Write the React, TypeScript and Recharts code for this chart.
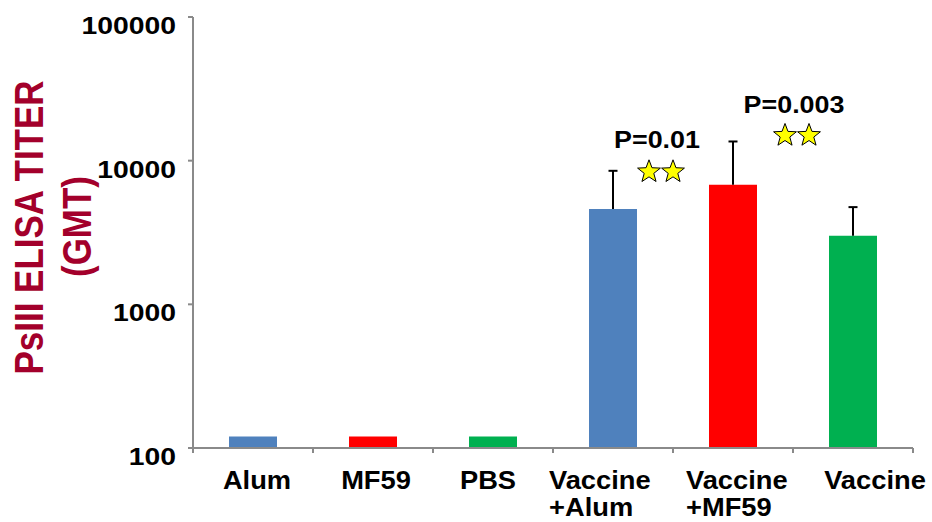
import React from "react";
import { BarChart, Bar, XAxis, YAxis, Cell, LabelList } from "recharts";

// Groups on the x axis ("\n" splits a label over two lines)
const groups = ["Alum", "MF59", "PBS", "Vaccine\n+Alum", "Vaccine\n+MF59", "Vaccine"];
// Geometric mean titers
const gmt = [120, 120, 120, 4600, 6800, 3000];
// Upper end of the error whisker (null = no whisker)
const upperLimit: (number | null)[] = [null, null, null, 8500, 13600, 4750];
// Significance annotations
const pLabels: (string | null)[] = [null, null, null, "P=0.01", "P=0.003", null];
// Y axis ticks
const yTicks = [100, 1000, 10000, 100000];

const data = groups.map((name, i) => ({
  name,
  gmt: gmt[i],
  upper: upperLimit[i],
  p: pLabels[i],
}));

const BAR_COLORS = ["#4F81BD", "#FF0000", "#00B050", "#4F81BD", "#FF0000", "#00B050"];
const AXIS_GRAY = "#8A8A8A";
const FONT = "'Liberation Sans', Arial, Helvetica, sans-serif";
const TITLE_RED = "#A3002B";

// Horizontal nudge of each category label block
const LABEL_NUDGE = [4, 3, -5, -9, 8, 22];
const LABEL_LINE_Y = [41, 68];

// Per-annotation layout (offset from the whisker top)
const ANNOT_LAYOUT: Record<string, { tx: number; ty: number; sx: number; sy: number }> = {
  "P=0.01": { tx: 44, ty: -23, sx: 36, sy: 1 },
  "P=0.003": { tx: 61, ty: -28, sx: 52, sy: -6 },
};

const starPath = (cx: number, cy: number, r: number) => {
  const inner = r * 0.42;
  const pts: string[] = [];
  for (let k = 0; k < 10; k++) {
    const rad = k % 2 === 0 ? r : inner;
    const a = -Math.PI / 2 + (k * Math.PI) / 5;
    pts.push(`${(cx + rad * Math.cos(a)).toFixed(2)},${(cy + rad * Math.sin(a)).toFixed(2)}`);
  }
  return `M${pts.join("L")}Z`;
};

const YTick = (props: any) => {
  const { x, y, payload } = props;
  return (
    <g transform={`translate(${x - 12},${y + 17}) scale(1.18,1)`}>
      <text textAnchor="end" fontFamily={FONT} fontWeight="bold" fontSize={24} fill="#000">
        {payload.value}
      </text>
    </g>
  );
};

const XTick = (props: any) => {
  const { x, y, payload, index, visibleTicksCount, width } = props;
  const band = width && visibleTicksCount ? width / visibleTicksCount : 120;
  const half = band / 2;
  const lines = String(payload.value).split("\n");
  const multi = lines.length > 1;
  const lx = x + (LABEL_NUDGE[index] || 0);
  return (
    <g>
      <line x1={x - half} x2={x - half} y1={y} y2={y + 5} stroke={AXIS_GRAY} strokeWidth={2} />
      {index === visibleTicksCount - 1 && (
        <line x1={x + half} x2={x + half} y1={y} y2={y + 5} stroke={AXIS_GRAY} strokeWidth={2} />
      )}
      {lines.map((ln, i) => (
        <g key={i} transform={`translate(${multi ? lx - 55 : lx},${y + LABEL_LINE_Y[i]}) scale(1.05,1)`}>
          <text
            textAnchor={multi ? "start" : "middle"}
            fontFamily={FONT}
            fontWeight="bold"
            fontSize={26}
            fill="#000"
          >
            {ln}
          </text>
        </g>
      ))}
    </g>
  );
};

const Whisker = (props: any) => {
  const { x, y, width, height, payload } = props;
  if (!payload || payload.upper == null || !isFinite(y) || !isFinite(height)) return null;
  const cx = x + width / 2;
  return (
    <g>
      <line x1={cx} x2={cx} y1={y} y2={y + height} stroke="#000" strokeWidth={2} />
      <line x1={cx - 4.5} x2={cx + 4.5} y1={y} y2={y} stroke="#000" strokeWidth={2} />
    </g>
  );
};

const Annotation = (props: any) => {
  const { x, y, width, value } = props;
  if (!value) return null;
  const lay = ANNOT_LAYOUT[value] || { tx: 50, ty: -25, sx: 44, sy: -3 };
  const cx = x + width / 2;
  return (
    <g>
      <g transform={`translate(${cx + lay.tx},${y + lay.ty}) scale(1.12,1)`}>
        <text textAnchor="middle" fontFamily={FONT} fontWeight="bold" fontSize={24} fill="#000">
          {value}
        </text>
      </g>
      <path d={starPath(cx + lay.sx, y + lay.sy, 12)} fill="#FFFF00" stroke="#000" strokeWidth={1} />
      <path d={starPath(cx + lay.sx + 24, y + lay.sy, 12)} fill="#FFFF00" stroke="#000" strokeWidth={1} />
    </g>
  );
};

const AxisTitle = (props: any) => {
  const vb = props.viewBox || { y: 17, height: 431 };
  const cy = vb.y + vb.height / 2 - 5;
  const common = {
    textAnchor: "middle" as const,
    fontFamily: FONT,
    fontWeight: "bold",
    fontSize: 35,
    fill: TITLE_RED,
  };
  return (
    <g>
      <g transform={`translate(43,${cy}) scale(1.17,1) rotate(-90)`}>
        <text {...common}>PsIII ELISA TITER</text>
      </g>
      <g transform={`translate(91,${cy - 1}) scale(1.17,1) rotate(-90)`}>
        <text {...common}>(GMT)</text>
      </g>
    </g>
  );
};

export default function App() {
  return (
    <div style={{ position: "absolute", left: 0, top: 0, background: "#fff" }}>
      <BarChart
        width={932}
        height={522}
        data={data}
        margin={{ top: 17, right: 19, bottom: 0, left: 0 }}
        barCategoryGap={0}
      >
        <XAxis
          dataKey="name"
          height={74}
          interval={0}
          tickLine={false}
          tickSize={0}
          tickMargin={0}
          axisLine={{ stroke: AXIS_GRAY, strokeWidth: 2 }}
          tick={(p: any) => <XTick {...p} />}
        />
        <XAxis xAxisId="err" dataKey="name" hide />
        <YAxis
          scale="log"
          domain={[100, 100000]}
          ticks={yTicks}
          allowDataOverflow
          width={193}
          tickSize={5}
          tickMargin={0}
          tickLine={{ stroke: AXIS_GRAY, strokeWidth: 2 }}
          axisLine={{ stroke: AXIS_GRAY, strokeWidth: 2 }}
          tick={(p: any) => <YTick {...p} />}
          label={{ content: (p: any) => <AxisTitle {...p} /> }}
        />
        <Bar dataKey="gmt" barSize={48} isAnimationActive={false}>
          {data.map((_, i) => (
            <Cell key={i} fill={BAR_COLORS[i]} />
          ))}
        </Bar>
        <Bar
          xAxisId="err"
          dataKey={(d: any) => (d.upper == null ? null : [d.gmt, d.upper])}
          barSize={48}
          fill="none"
          shape={(p: any) => <Whisker {...p} />}
          isAnimationActive={false}
        >
          <LabelList dataKey="p" content={(p: any) => <Annotation {...p} />} />
        </Bar>
      </BarChart>
    </div>
  );
}
